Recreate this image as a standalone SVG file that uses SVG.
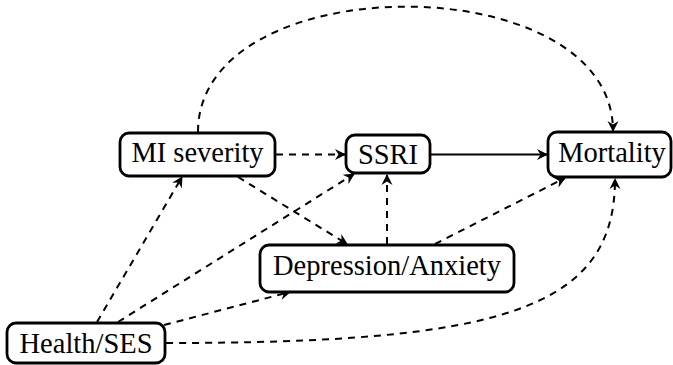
<svg xmlns="http://www.w3.org/2000/svg" width="673" height="365" viewBox="0 0 673 365">
<style>
.box{fill:#fff;stroke:#000;stroke-width:2.8}
.lbl{font-family:"Liberation Serif","Times New Roman",serif;font-size:28.5px;fill:#000;text-anchor:middle}
.e{fill:none;stroke:#000;stroke-width:2;marker-end:url(#ah)}
.d{stroke-dasharray:7 6}
</style>
<defs>
<marker id="ah" markerUnits="userSpaceOnUse" viewBox="-12 -6 14 12" refX="0" refY="0" markerWidth="14" markerHeight="12" orient="auto" overflow="visible">
<path d="M1,0 L-10,-5.5 L-6.5,0 L-10,5.5 Z" fill="#000"/>
</marker>
</defs>
<g id="connectors">
<path class="e d" d="M276,154.5 L345,154.5"/>
<path class="e" d="M431,154.5 L547,154.5"/>
<path class="e d" d="M238,177 L347,244"/>
<path class="e d" d="M387,244 L387,175"/>
<path class="e d" d="M435,244 L565,178"/>
<path class="e d" d="M97,322 L182,177"/>
<path class="e d" d="M118,322 L354,174"/>
<path class="e d" d="M164,325 L290,292"/>
<path class="e d" d="M166,343 C500,343 615,310 615,179"/>
<path class="e d" d="M198,132 C198,-35 613,-35 613,131"/>
</g>
<g id="mi">
<rect class="box" x="120" y="133" width="155" height="43" rx="9"/>
<text class="lbl" x="197.5" y="161.5">MI severity</text>
</g>
<g id="ssri">
<rect class="box" x="346" y="135" width="84" height="38" rx="9"/>
<text class="lbl" x="388" y="163.5">SSRI</text>
</g>
<g id="mortality">
<rect class="box" x="548" y="132" width="123" height="45" rx="9"/>
<text class="lbl" x="612" y="161.5">Mortality</text>
</g>
<g id="depression">
<rect class="box" x="260" y="245" width="254" height="47" rx="9"/>
<text class="lbl" x="387" y="275">Depression/Anxiety</text>
</g>
<g id="health">
<rect class="box" x="7" y="323" width="158" height="40" rx="9"/>
<text class="lbl" x="86" y="353">Health/SES</text>
</g>
</svg>
